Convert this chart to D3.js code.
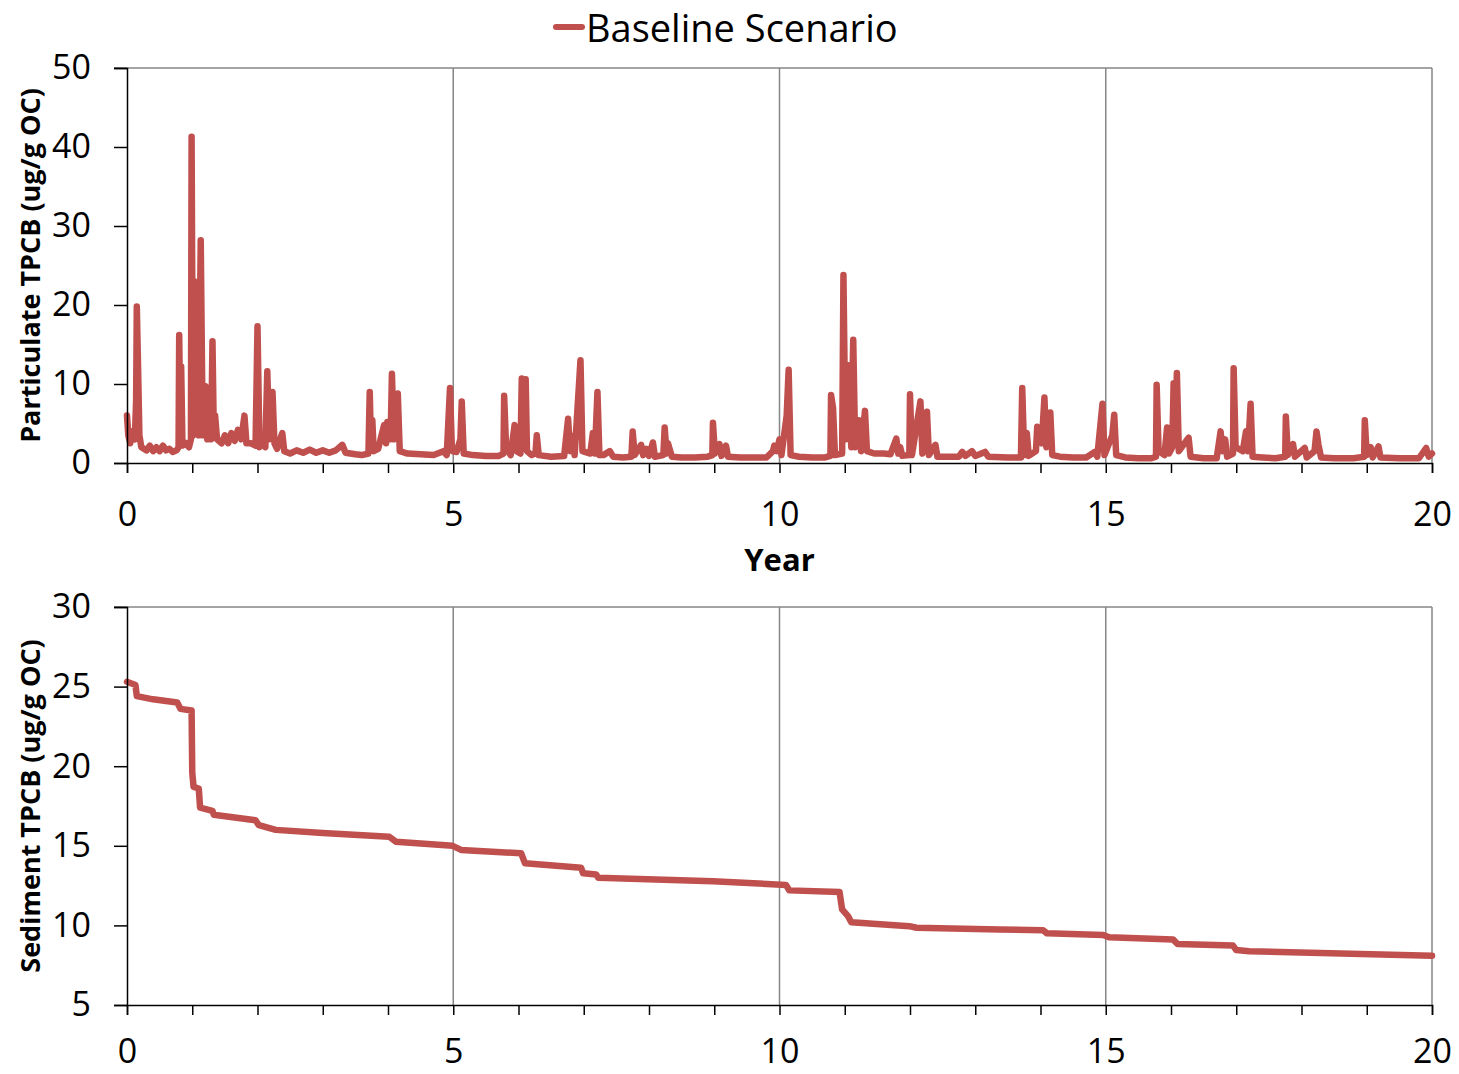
<!DOCTYPE html>
<html>
<head>
<meta charset="utf-8">
<script src="https://cdn.jsdelivr.net/npm/d3@7"></script>
<style>
  body { margin: 0; background: #fff; }
  svg text { font-family: "Open Sans", sans-serif; fill: #000; }
</style>
</head>
<body>
<svg id="chart" width="1459" height="1074"></svg>
<script>
// year / value pairs
var particulate = [
  [0.00, 6.0], [0.02, 3.5], [0.05, 2.5], [0.08, 4.0], [0.12, 3.0], [0.14, 8.0], [0.15, 19.8], [0.17, 12.0],
  [0.19, 3.5], [0.22, 2.0], [0.30, 1.6], [0.35, 2.2], [0.40, 1.5], [0.45, 2.0], [0.50, 1.5], [0.55, 2.2],
  [0.60, 1.6], [0.65, 1.8], [0.70, 1.4], [0.76, 1.6], [0.79, 2.0], [0.80, 16.2], [0.82, 2.5], [0.83, 12.2],
  [0.85, 2.2], [0.90, 2.5], [0.95, 2.0], [0.98, 3.0], [0.99, 41.3], [1.01, 3.5], [1.03, 23.0], [1.05, 4.0],
  [1.08, 16.5], [1.10, 3.5], [1.13, 28.2], [1.16, 3.5], [1.20, 9.7], [1.23, 3.0], [1.25, 9.5], [1.29, 3.0],
  [1.31, 15.4], [1.33, 4.0], [1.35, 6.0], [1.38, 3.0], [1.45, 2.5], [1.50, 3.5], [1.55, 2.5], [1.60, 3.8],
  [1.65, 2.8], [1.70, 4.2], [1.75, 3.0], [1.80, 6.0], [1.83, 2.5], [1.90, 2.5], [1.97, 2.2], [2.00, 17.3],
  [2.03, 2.0], [2.08, 2.5], [2.12, 2.0], [2.15, 11.6], [2.18, 3.0], [2.23, 9.0], [2.26, 2.5], [2.30, 1.8],
  [2.38, 3.8], [2.41, 1.5], [2.50, 1.2], [2.60, 1.6], [2.70, 1.3], [2.80, 1.7], [2.90, 1.3], [3.00, 1.6],
  [3.10, 1.3], [3.20, 1.6], [3.30, 2.3], [3.35, 1.3], [3.50, 1.1], [3.60, 1.0], [3.70, 1.2], [3.72, 9.0],
  [3.74, 2.0], [3.76, 5.4], [3.78, 1.5], [3.85, 1.8], [3.94, 4.8], [3.97, 2.5], [3.99, 5.2], [4.04, 3.0],
  [4.06, 11.3], [4.09, 3.0], [4.12, 5.0], [4.15, 8.8], [4.18, 1.5], [4.30, 1.2], [4.50, 1.1], [4.70, 1.0],
  [4.85, 1.5], [4.90, 1.0], [4.95, 9.5], [4.98, 1.5], [5.05, 1.4], [5.11, 3.0], [5.13, 7.8], [5.16, 1.2],
  [5.30, 1.0], [5.50, 0.9], [5.70, 0.9], [5.77, 1.2], [5.78, 8.5], [5.81, 2.0], [5.88, 1.0], [5.94, 4.8],
  [5.97, 1.5], [6.03, 1.2], [6.05, 10.7], [6.08, 2.0], [6.11, 10.6], [6.13, 1.5], [6.20, 1.0], [6.26, 1.2],
  [6.28, 3.5], [6.31, 1.0], [6.50, 0.8], [6.70, 0.9], [6.76, 5.6], [6.79, 1.5], [6.83, 3.4], [6.86, 1.0],
  [6.95, 13.0], [6.98, 1.5], [7.10, 1.2], [7.14, 3.8], [7.17, 1.2], [7.21, 9.0], [7.24, 1.0], [7.30, 1.0],
  [7.40, 1.5], [7.45, 0.8], [7.60, 0.7], [7.73, 0.8], [7.75, 4.0], [7.78, 1.0], [7.88, 2.3], [7.91, 1.0],
  [7.96, 1.8], [8.00, 0.9], [8.06, 2.6], [8.09, 0.8], [8.22, 1.0], [8.24, 4.5], [8.27, 1.2], [8.29, 2.5],
  [8.35, 0.8], [8.50, 0.7], [8.70, 0.7], [8.90, 0.8], [8.97, 1.0], [8.98, 5.1], [9.01, 1.2], [9.08, 2.4],
  [9.11, 0.9], [9.18, 2.2], [9.21, 0.8], [9.40, 0.7], [9.60, 0.7], [9.80, 0.7], [9.90, 1.5], [9.92, 2.2],
  [9.96, 1.5], [10.00, 3.0], [10.03, 1.0], [10.11, 6.0], [10.14, 11.8], [10.17, 1.0], [10.30, 0.8],
  [10.50, 0.7], [10.70, 0.7], [10.78, 0.9], [10.79, 8.6], [10.82, 7.0], [10.85, 1.0], [10.96, 1.2],
  [10.98, 23.8], [11.01, 3.0], [11.04, 12.4], [11.07, 7.6], [11.10, 2.0], [11.13, 15.6], [11.16, 2.0],
  [11.22, 5.4], [11.25, 1.5], [11.31, 6.6], [11.34, 1.5], [11.45, 1.2], [11.60, 1.2], [11.70, 1.1],
  [11.79, 3.1], [11.82, 1.2], [11.85, 2.0], [11.88, 0.9], [11.99, 1.0], [12.00, 8.7], [12.03, 1.0],
  [12.16, 7.8], [12.19, 1.2], [12.26, 6.5], [12.29, 1.0], [12.39, 2.3], [12.42, 0.8], [12.60, 0.8],
  [12.75, 0.8], [12.80, 1.4], [12.85, 0.9], [12.95, 1.5], [13.00, 0.9], [13.15, 1.4], [13.20, 0.8],
  [13.50, 0.7], [13.70, 0.7], [13.72, 9.5], [13.75, 1.0], [13.79, 3.8], [13.82, 0.9], [13.93, 1.5],
  [13.95, 4.6], [13.99, 4.3], [14.02, 2.5], [14.06, 8.3], [14.09, 2.0], [14.15, 6.4], [14.18, 1.0],
  [14.30, 0.8], [14.50, 0.7], [14.70, 0.7], [14.83, 1.4], [14.87, 0.8], [14.95, 7.5], [14.98, 1.0],
  [15.10, 3.5], [15.13, 6.1], [15.16, 1.0], [15.30, 0.7], [15.50, 0.6], [15.70, 0.6], [15.77, 0.8],
  [15.78, 9.9], [15.81, 1.5], [15.90, 1.0], [15.94, 4.5], [15.97, 1.2], [16.02, 2.0], [16.04, 10.1],
  [16.07, 4.0], [16.09, 11.4], [16.12, 1.5], [16.27, 3.2], [16.30, 0.8], [16.50, 0.6], [16.70, 0.6],
  [16.76, 4.0], [16.79, 1.5], [16.83, 3.0], [16.86, 0.8], [16.95, 1.2], [16.96, 12.0], [16.99, 2.0],
  [17.10, 1.5], [17.15, 4.0], [17.18, 1.5], [17.22, 7.5], [17.25, 0.8], [17.40, 0.7], [17.60, 0.6],
  [17.75, 0.8], [17.76, 5.9], [17.79, 1.0], [17.87, 2.4], [17.90, 0.8], [18.05, 1.9], [18.08, 0.7],
  [18.20, 1.5], [18.23, 4.0], [18.26, 2.3], [18.30, 0.7], [18.50, 0.6], [18.80, 0.6], [18.96, 0.8],
  [18.97, 5.4], [19.00, 1.0], [19.06, 2.0], [19.09, 0.7], [19.18, 2.1], [19.21, 0.7], [19.50, 0.6],
  [19.80, 0.6], [19.91, 1.9], [19.95, 0.8], [20.00, 1.2]
];

var sediment = [
  [0.00, 25.3], [0.13, 25.1], [0.15, 24.4], [0.40, 24.2], [0.77, 24.0], [0.82, 23.6], [0.99, 23.5],
  [1.00, 19.6], [1.02, 18.7], [1.10, 18.6], [1.12, 17.4], [1.31, 17.2], [1.33, 16.95], [1.97, 16.6],
  [2.02, 16.3], [2.28, 16.0], [3.00, 15.8], [4.02, 15.57], [4.12, 15.26], [4.99, 15.0], [5.12, 14.74],
  [6.04, 14.53], [6.10, 13.9], [6.96, 13.62], [6.99, 13.27], [7.19, 13.2], [7.22, 13.0], [8.98, 12.77],
  [10.10, 12.54], [10.15, 12.2], [10.92, 12.1], [10.96, 11.0], [11.05, 10.58], [11.10, 10.2],
  [11.99, 9.95], [12.10, 9.85], [13.37, 9.75], [14.04, 9.7], [14.10, 9.5], [14.96, 9.4], [15.05, 9.25],
  [16.03, 9.12], [16.10, 8.83], [16.95, 8.73], [17.00, 8.45], [17.20, 8.38], [20.00, 8.1]
];

var yearTicks = d3.range(0, 21, 1);
var yearLabels = [0, 5, 10, 15, 20];
var gridYears = [5, 10, 15, 20];
var partTicks = [0, 10, 20, 30, 40, 50];
var sedTicks = [5, 10, 15, 20, 25, 30];
var seriesName = "Baseline Scenario";

var lineColor = "#C0504D";
var svg = d3.select("#chart");

var left = 127, right = 1432;
var x = d3.scaleLinear().domain([0, 20]).range([left, right]);

function drawPanel(data, yDomain, yTicks, top, bottom, title, labelPad, xTitle) {
    var y = d3.scaleLinear().domain(yDomain).range([bottom, top]);
    var g = svg.append("g");

    // vertical gridlines
    g.selectAll(".grid").data(gridYears).enter().append("line")
        .attr("x1", function (d) { return x(d); })
        .attr("x2", function (d) { return x(d); })
        .attr("y1", top).attr("y2", bottom)
        .attr("stroke", "#868686").attr("stroke-width", 1.5);

    // top border
    g.append("line")
        .attr("x1", left - 13).attr("x2", right)
        .attr("y1", top).attr("y2", top)
        .attr("stroke", "#868686").attr("stroke-width", 1.5);

    // the data line
    var line = d3.line()
        .x(function (d) { return x(d[0]); })
        .y(function (d) { return y(d[1]); });

    g.append("path")
        .attr("d", line(data))
        .attr("fill", "none")
        .attr("stroke", lineColor)
        .attr("stroke-width", 6.5)
        .attr("stroke-linejoin", "round")
        .attr("stroke-linecap", "round");

    // x axis
    var xAxis = g.append("g")
        .attr("transform", "translate(0," + bottom + ")")
        .call(d3.axisBottom(x)
            .tickValues(yearTicks)
            .tickSize(10)
            .tickPadding(labelPad)
            .tickFormat(function (d) { return yearLabels.indexOf(d) >= 0 ? d : ""; }));
    xAxis.select(".domain").attr("stroke", "#000").attr("stroke-width", 1.5);
    xAxis.selectAll(".tick line").attr("stroke", "#000").attr("stroke-width", 1.5);
    xAxis.selectAll("text").attr("font-size", 34).attr("font-family", "Open Sans");

    // y axis
    var yAxis = g.append("g")
        .attr("transform", "translate(" + left + ",0)")
        .call(d3.axisLeft(y).tickValues(yTicks).tickSize(13).tickPadding(23));
    yAxis.select(".domain").attr("stroke", "#000").attr("stroke-width", 1.5);
    yAxis.selectAll(".tick line").attr("stroke", "#000").attr("stroke-width", 1.5);
    yAxis.selectAll("text").attr("font-size", 34).attr("font-family", "Open Sans");

    // y axis title
    g.append("text")
        .attr("transform", "translate(29," + ((top + bottom) / 2) + ") rotate(-90)")
        .attr("text-anchor", "middle")
        .attr("dominant-baseline", "central")
        .attr("font-size", 27)
        .attr("font-weight", "bold")
        .text(title);

    if (xTitle) {
        g.append("text")
            .attr("x", x(10)).attr("y", 559)
            .attr("text-anchor", "middle")
            .attr("dominant-baseline", "central")
            .attr("font-size", 31)
            .attr("font-weight", "bold")
            .text(xTitle);
    }
}

drawPanel(particulate, [0, 50], partTicks, 68, 463, "Particulate TPCB (ug/g OC)", 29, "Year");
drawPanel(sediment, [5, 30], sedTicks, 607, 1005, "Sediment TPCB (ug/g OC)", 24, null);

// legend
var legend = svg.append("g");
legend.append("line")
    .attr("x1", 556).attr("x2", 582)
    .attr("y1", 27).attr("y2", 27)
    .attr("stroke", lineColor).attr("stroke-width", 6)
    .attr("stroke-linecap", "round");
legend.append("text")
    .attr("x", 586).attr("y", 27)
    .attr("dominant-baseline", "central")
    .attr("font-size", 38)
    .text(seriesName);
</script>
</body>
</html>
